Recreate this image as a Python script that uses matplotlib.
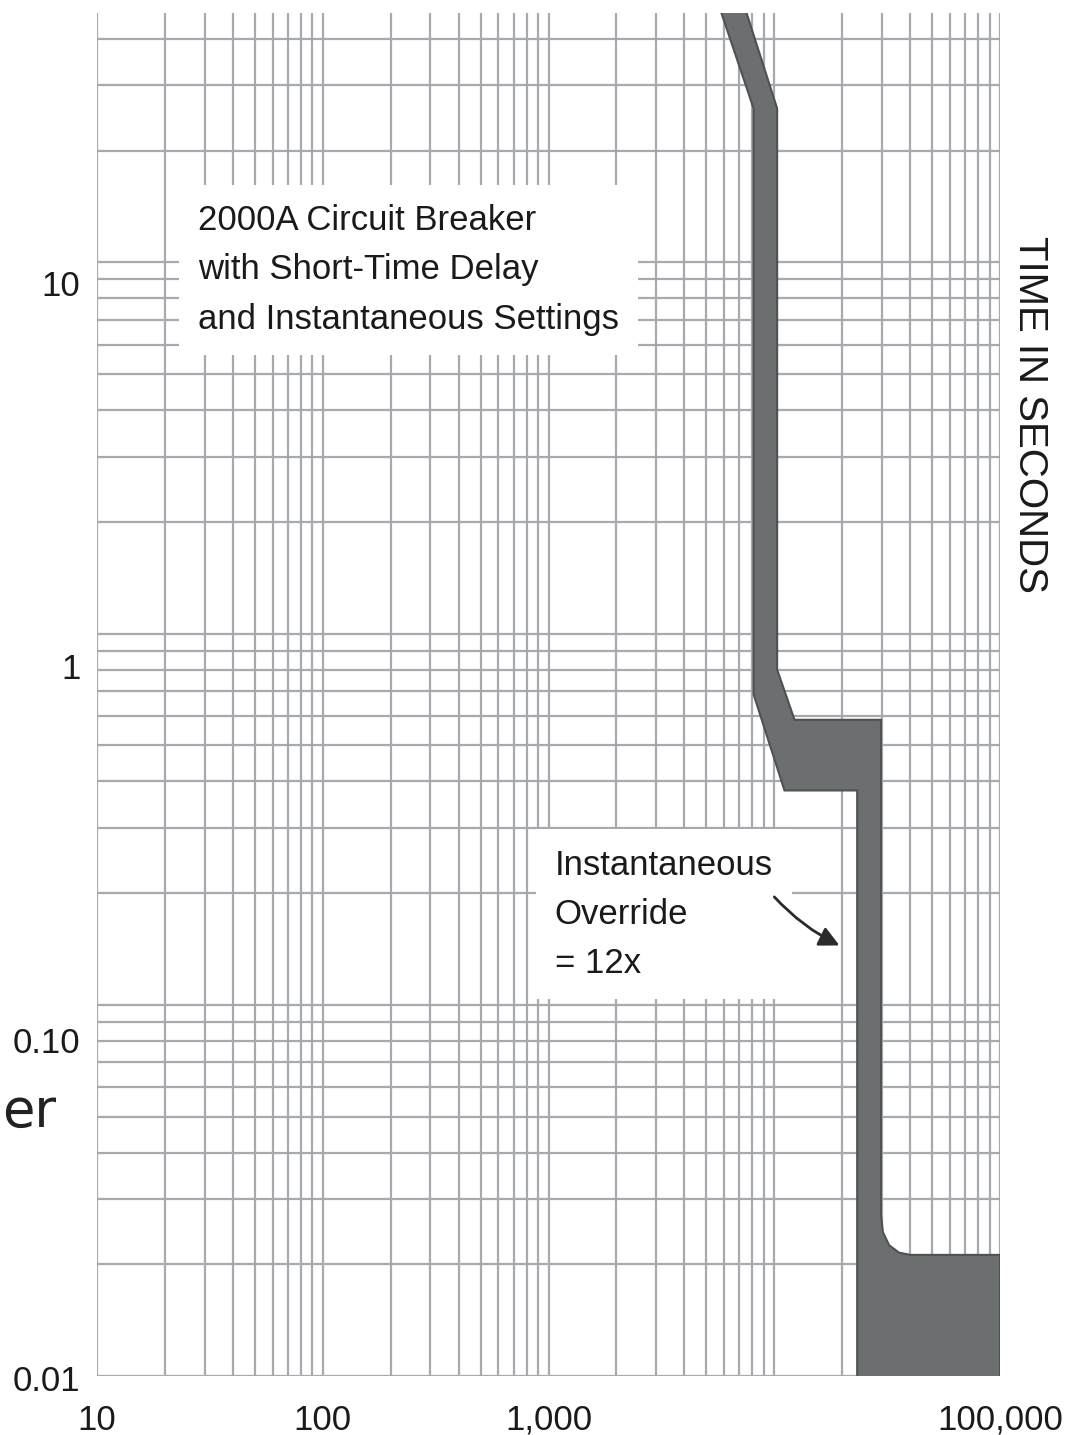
import matplotlib
matplotlib.use("Agg")
import matplotlib.pyplot as plt
from matplotlib.ticker import LogLocator, NullFormatter
from matplotlib.transforms import ScaledTranslation

# time-current band of the breaker (amps, seconds)
# lower/left edge = minimum clearing, upper/right edge = maximum clearing
min_amps = [5800, 8100, 8100, 11100, 23300, 23300]
min_secs = [47.5, 26.0, 0.686, 0.378, 0.378, 0.0095]
max_amps = [100000, 100000, 40000, 35700, 32300, 30300, 29700, 29700, 12300, 10300, 10300, 7500]
max_secs = [0.0095, 0.0212, 0.0212, 0.0215, 0.0225, 0.0244, 0.0272, 0.586, 0.586, 0.80, 26.0, 47.5]

x_ticks = [10, 100, 1000, 10000, 100000]
x_labels = ["10", "100", "1,000", "", "100,000"]
y_ticks = [0.01, 0.1, 1, 10]
y_labels = ["0.01", "0.10", "1", "10"]
y_label_drop = [2, 35, 32, 21]  # px the printed labels sit below their lines

FONT = ["Liberation Sans", "DejaVu Sans"]
plt.rcParams["font.family"] = FONT

fig = plt.figure(figsize=(10.67, 14.35), dpi=100)
ax = fig.add_axes([97 / 1067, 1 - 1376 / 1435, 903 / 1067, 1363 / 1435])
ax.set_xscale("log")
ax.set_yscale("log")
ax.set_xlim(10, 100000)
ax.set_ylim(0.01, 47)

# log paper grid
ax.xaxis.set_minor_locator(LogLocator(base=10, subs=range(2, 10), numticks=50))
ax.yaxis.set_minor_locator(LogLocator(base=10, subs=range(2, 10), numticks=50))
ax.xaxis.set_minor_formatter(NullFormatter())
ax.yaxis.set_minor_formatter(NullFormatter())
ax.set_axisbelow(True)
ax.grid(which="both", color="#a6aaae", linewidth=1.6)

ax.set_xticks(x_ticks, labels=x_labels)
ax.set_yticks(y_ticks, labels=y_labels)
ax.tick_params(which="both", length=0, labelsize=25, colors="#1a1a1a")
ax.tick_params(axis="x", pad=20)
ax.tick_params(axis="y", pad=12)
for lab, d in zip(ax.get_yticklabels(), y_label_drop):
    lab.set_transform(lab.get_transform() + ScaledTranslation(0, -d / 100, fig.dpi_scale_trans))
for s in ax.spines.values():
    s.set_visible(False)

# the band
band_x = min_amps + max_amps
band_y = min_secs + max_secs
ax.fill(band_x, band_y, facecolor="#6b6f70", edgecolor="#4e5253", linewidth=1.5, zorder=3)

box = dict(boxstyle="square,pad=0.55", facecolor="white", edgecolor="none")
ax.text(0.112, 0.860, "2000A Circuit Breaker\nwith Short-Time Delay\nand Instantaneous Settings",
        transform=ax.transAxes, fontsize=25, color="#1a1a1a", ha="left", va="top",
        linespacing=1.63, bbox=box, zorder=4)
ax.text(0.507, 0.387, "Instantaneous\nOverride\n= 12x",
        transform=ax.transAxes, fontsize=25, color="#1a1a1a", ha="left", va="top",
        linespacing=1.63, bbox=box, zorder=4)
ax.annotate("", xy=(0.825, 0.315), xytext=(0.748, 0.353),
            xycoords="axes fraction", textcoords="axes fraction",
            arrowprops=dict(arrowstyle="-|>,head_length=1.2,head_width=0.6", color="#2b2b2b",
                            lw=2, connectionstyle="arc3,rad=0.1"), zorder=5)

fig.text(1030 / 1067, 1 - 415 / 1435, "TIME IN SECONDS", rotation=-90, fontsize=29,
         color="#1a1a1a", ha="center", va="center")
fig.text(2 / 1067, 1 - 1127 / 1435, "er", fontsize=38, color="#222222",
         family="DejaVu Sans", ha="left", va="baseline")

fig.savefig("out.png", dpi=100)
